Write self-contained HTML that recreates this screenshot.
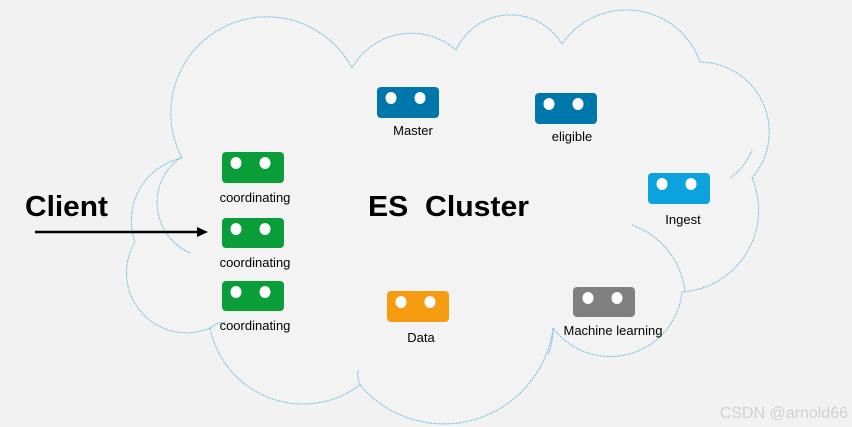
<!DOCTYPE html>
<html><head><meta charset="utf-8"><style>
html,body{margin:0;padding:0;background:#f2f2f2;}
</style></head><body>
<svg width="852" height="427" viewBox="0 0 852 427" xmlns="http://www.w3.org/2000/svg" style="display:block;font-family:'Liberation Sans',Arial,sans-serif">
<rect width="852" height="427" fill="#f2f2f2"/>
<path d="M182,158 A95,95 0 0 1 352,68 A68,68 0 0 1 456,50 A60,60 0 0 1 562,44 A78,78 0 0 1 700,62 A70,70 0 0 1 752,178 A82,82 0 0 1 682,292 A72,72 0 0 1 553,328 A110,110 0 0 1 360,385 A95,95 0 0 1 210,328 A60,60 0 0 1 135,242 A64,64 0 0 1 182,158 Z" fill="#f3f3f3" stroke="#58b8e4" stroke-width="1" stroke-dasharray="1.5 1"/>
<g fill="none" stroke="#58b8e4" stroke-width="1" stroke-dasharray="1.5 1">
<path d="M190,253 A55,55 0 0 1 180,158"/>
<path d="M632,225 A80,80 0 0 1 685,292"/>
<path d="M730,178 A60,60 0 0 0 752,150"/>
<path d="M553,328 A70,70 0 0 1 548,355"/>
<path d="M360,385 A30,30 0 0 1 358,370"/>
<path d="M210,328 A25,25 0 0 1 225,322"/>
</g>
<g font-size="13" fill="#000" text-anchor="middle">
<g>
<rect x="222" y="152" width="62" height="31" rx="4" fill="#0a9e3a"/>
<ellipse cx="236" cy="163" rx="5.5" ry="6" fill="#fff"/><ellipse cx="265" cy="163" rx="5.5" ry="6" fill="#fff"/>
<text x="255" y="202">coordinating</text>
</g>
<g>
<rect x="222" y="218" width="62" height="30" rx="4" fill="#0a9e3a"/>
<ellipse cx="236" cy="229" rx="5.5" ry="6" fill="#fff"/><ellipse cx="265" cy="229" rx="5.5" ry="6" fill="#fff"/>
<text x="255" y="267">coordinating</text>
</g>
<g>
<rect x="222" y="281" width="62" height="30" rx="4" fill="#0a9e3a"/>
<ellipse cx="236" cy="292" rx="5.5" ry="6" fill="#fff"/><ellipse cx="265" cy="292" rx="5.5" ry="6" fill="#fff"/>
<text x="255" y="330">coordinating</text>
</g>
<g>
<rect x="377" y="87" width="62" height="31" rx="4" fill="#0077aa"/>
<ellipse cx="391" cy="98" rx="5.5" ry="6" fill="#fff"/><ellipse cx="420" cy="98" rx="5.5" ry="6" fill="#fff"/>
<text x="413" y="135">Master</text>
</g>
<g>
<rect x="535" y="93" width="62" height="31" rx="4" fill="#0077aa"/>
<ellipse cx="549" cy="104" rx="5.5" ry="6" fill="#fff"/><ellipse cx="578" cy="104" rx="5.5" ry="6" fill="#fff"/>
<text x="572" y="141">eligible</text>
</g>
<g>
<rect x="648" y="173" width="62" height="31" rx="4" fill="#0aa3dd"/>
<ellipse cx="662" cy="184" rx="5.5" ry="6" fill="#fff"/><ellipse cx="691" cy="184" rx="5.5" ry="6" fill="#fff"/>
<text x="683" y="224">Ingest</text>
</g>
<g>
<rect x="387" y="291" width="62" height="31" rx="4" fill="#f59c11"/>
<ellipse cx="401" cy="302" rx="5.5" ry="6" fill="#fff"/><ellipse cx="430" cy="302" rx="5.5" ry="6" fill="#fff"/>
<text x="421" y="342">Data</text>
</g>
<g>
<rect x="573" y="287" width="62" height="30" rx="4" fill="#808080"/>
<ellipse cx="588" cy="298" rx="5.5" ry="6" fill="#fff"/><ellipse cx="617" cy="298" rx="5.5" ry="6" fill="#fff"/>
<text x="613" y="335">Machine learning</text>
</g>
</g>
<text x="25" y="216" font-size="29" font-weight="bold" textLength="83" lengthAdjust="spacingAndGlyphs">Client</text>
<text x="368" y="216" font-size="29" font-weight="bold" xml:space="preserve" textLength="161" lengthAdjust="spacingAndGlyphs">ES  Cluster</text>
<line x1="35" y1="232" x2="198" y2="232" stroke="#000" stroke-width="2.5"/>
<polygon points="197,227 208,232 197,237" fill="#000"/>
<text x="848" y="418" font-size="16" fill="#d0d0d0" text-anchor="end">CSDN @arnold66</text>
</svg>
</body></html>
